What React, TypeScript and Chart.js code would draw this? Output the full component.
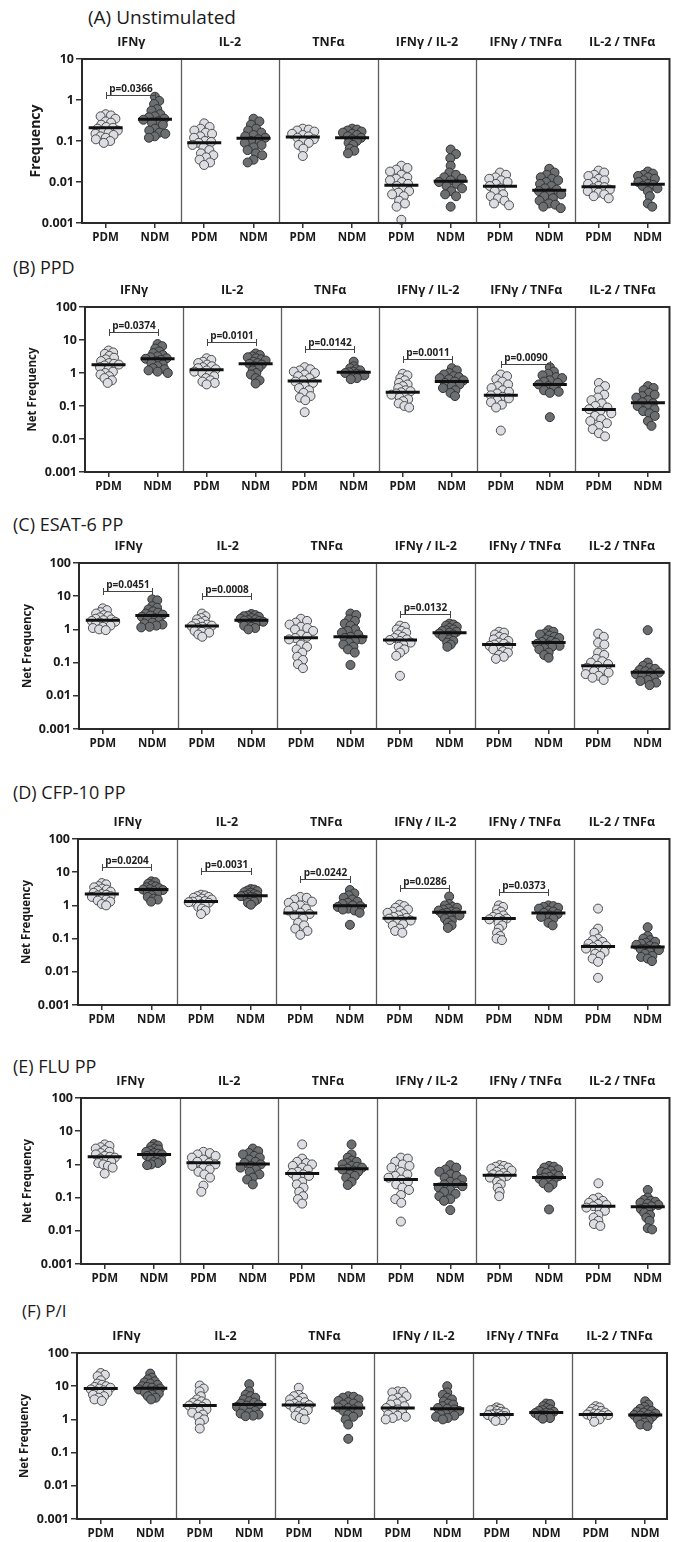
import React, { useEffect, useRef } from 'react';
import { Chart, registerables } from 'chart.js';
Chart.register(...registerables);

// ---------- categories / labels ----------
const GROUPS = ['IFNγ', 'IL-2', 'TNFα', 'IFNγ / IL-2', 'IFNγ / TNFα', 'IL-2 / TNFα'];
const COLUMNS = ['PDM', 'NDM'];
const Y_TICKS_A = [0.001, 0.01, 0.1, 1, 10];
const Y_LABELS_A = ['0.001', '0.01', '0.1', '1', '10'];
const Y_TICKS_NET = [0.001, 0.01, 0.1, 1, 10, 100];
const Y_LABELS_NET = ['0.001', '0.01', '0.1', '1', '10', '100'];

// ---------- (A) Unstimulated ----------
const unstimPDM = [
  [0.45, 0.42, 0.4, 0.35, 0.3, 0.28, 0.25, 0.22, 0.21, 0.2, 0.18, 0.17, 0.16, 0.15, 0.14, 0.13, 0.12, 0.11, 0.1, 0.09],
  [0.27, 0.22, 0.2, 0.18, 0.16, 0.15, 0.13, 0.12, 0.1, 0.095, 0.09, 0.08, 0.07, 0.06, 0.05, 0.045, 0.04, 0.035, 0.03, 0.026],
  [0.2, 0.19, 0.18, 0.17, 0.15, 0.14, 0.13, 0.12, 0.11, 0.1, 0.09, 0.08, 0.065, 0.043],
  [0.025, 0.022, 0.02, 0.018, 0.015, 0.013, 0.012, 0.011, 0.01, 0.009, 0.008, 0.007, 0.006, 0.0055, 0.005, 0.0045, 0.0035, 0.003, 0.0025, 0.0012],
  [0.017, 0.015, 0.013, 0.012, 0.011, 0.01, 0.009, 0.008, 0.007, 0.006, 0.005, 0.0045, 0.004, 0.0035, 0.003, 0.0027],
  [0.019, 0.017, 0.015, 0.014, 0.012, 0.011, 0.01, 0.009, 0.008, 0.0075, 0.007, 0.0065, 0.006, 0.0055, 0.005, 0.0045, 0.004],
];
const unstimNDM = [
  [1.2, 0.95, 0.8, 0.6, 0.55, 0.45, 0.4, 0.38, 0.35, 0.33, 0.3, 0.28, 0.25, 0.2, 0.18, 0.16, 0.15, 0.13, 0.12],
  [0.35, 0.3, 0.25, 0.2, 0.18, 0.16, 0.14, 0.13, 0.12, 0.11, 0.1, 0.09, 0.08, 0.07, 0.06, 0.05, 0.045, 0.035, 0.03],
  [0.2, 0.19, 0.18, 0.17, 0.16, 0.15, 0.14, 0.13, 0.12, 0.11, 0.1, 0.09, 0.08, 0.065, 0.058, 0.05],
  [0.062, 0.048, 0.038, 0.025, 0.017, 0.015, 0.013, 0.012, 0.011, 0.01, 0.009, 0.008, 0.007, 0.006, 0.005, 0.0045, 0.0025],
  [0.021, 0.017, 0.015, 0.013, 0.012, 0.011, 0.01, 0.009, 0.008, 0.007, 0.0065, 0.006, 0.0055, 0.005, 0.0045, 0.004, 0.0035, 0.003, 0.0028, 0.0025, 0.0023],
  [0.018, 0.016, 0.015, 0.014, 0.013, 0.012, 0.011, 0.01, 0.009, 0.0085, 0.008, 0.007, 0.006, 0.0045, 0.003, 0.0025],
];
const unstimPDMMedian = [0.21, 0.091, 0.125, 0.0083, 0.0079, 0.0077];
const unstimNDMMedian = [0.34, 0.116, 0.12, 0.0105, 0.0063, 0.0088];
const unstimPValues = [{ group: 0, level: 1.34, label: 'p=0.0366' }];

// ---------- (B) PPD ----------
const ppdPDM = [
  [4.8, 4.2, 3.8, 3.3, 2.9, 2.6, 2.3, 2.0, 1.9, 1.8, 1.7, 1.5, 1.3, 1.1, 1.0, 0.9, 0.8, 0.7, 0.6, 0.5],
  [2.8, 2.5, 2.2, 2.0, 1.8, 1.6, 1.5, 1.4, 1.3, 1.2, 1.1, 1.0, 0.9, 0.8, 0.7, 0.6, 0.55, 0.5, 0.45],
  [1.5, 1.3, 1.2, 1.1, 1.0, 0.9, 0.8, 0.7, 0.6, 0.55, 0.5, 0.4, 0.35, 0.3, 0.25, 0.2, 0.18, 0.15, 0.065],
  [0.95, 0.85, 0.7, 0.6, 0.5, 0.45, 0.4, 0.35, 0.3, 0.28, 0.26, 0.24, 0.22, 0.2, 0.18, 0.16, 0.14, 0.12, 0.1, 0.09],
  [0.9, 0.8, 0.65, 0.55, 0.45, 0.4, 0.35, 0.3, 0.27, 0.24, 0.21, 0.19, 0.17, 0.15, 0.13, 0.11, 0.09, 0.018],
  [0.5, 0.4, 0.3, 0.22, 0.18, 0.15, 0.12, 0.1, 0.09, 0.08, 0.07, 0.06, 0.05, 0.04, 0.035, 0.03, 0.025, 0.02, 0.015, 0.012],
];
const ppdNDM = [
  [7.5, 6.5, 5.5, 4.5, 4.0, 3.5, 3.2, 3.0, 2.8, 2.7, 2.5, 2.3, 2.0, 1.8, 1.6, 1.4, 1.3, 1.2, 1.1, 1.0],
  [3.9, 3.5, 3.2, 3.0, 2.8, 2.6, 2.4, 2.2, 2.0, 1.9, 1.8, 1.6, 1.4, 1.2, 1.0, 0.9, 0.7, 0.6, 0.48],
  [2.2, 1.6, 1.4, 1.3, 1.2, 1.1, 1.05, 1.0, 0.95, 0.9, 0.85, 0.8, 0.7, 0.65],
  [1.4, 1.2, 1.0, 0.9, 0.8, 0.75, 0.7, 0.65, 0.6, 0.55, 0.5, 0.45, 0.4, 0.35, 0.3, 0.25, 0.2],
  [1.5, 1.1, 0.95, 0.85, 0.75, 0.7, 0.6, 0.55, 0.5, 0.45, 0.4, 0.35, 0.3, 0.27, 0.25, 0.046],
  [0.4, 0.35, 0.3, 0.25, 0.22, 0.2, 0.18, 0.15, 0.13, 0.12, 0.1, 0.09, 0.08, 0.07, 0.06, 0.05, 0.035, 0.025],
];
const ppdPDMMedian = [1.78, 1.26, 0.57, 0.26, 0.21, 0.078];
const ppdNDMMedian = [2.7, 1.9, 1.05, 0.55, 0.45, 0.125];
const ppdPValues = [
  { group: 0, level: 17, label: 'p=0.0374' },
  { group: 1, level: 9, label: 'p=0.0101' },
  { group: 2, level: 5.5, label: 'p=0.0142' },
  { group: 3, level: 2.65, label: 'p=0.0011' },
  { group: 4, level: 1.9, label: 'p=0.0090' },
];

// ---------- (C) ESAT-6 PP ----------
const esatPDM = [
  [4.3, 3.8, 3.3, 3.0, 2.7, 2.5, 2.3, 2.1, 2.0, 1.9, 1.8, 1.7, 1.6, 1.5, 1.4, 1.3, 1.2, 1.1, 1.0, 0.95],
  [3.0, 2.5, 2.2, 2.0, 1.8, 1.6, 1.5, 1.4, 1.3, 1.25, 1.2, 1.1, 1.0, 0.9, 0.85, 0.8, 0.7, 0.6],
  [2.1, 1.8, 1.6, 1.4, 1.2, 1.1, 1.0, 0.9, 0.7, 0.6, 0.55, 0.5, 0.35, 0.3, 0.25, 0.2, 0.15, 0.12, 0.09, 0.068],
  [1.3, 1.2, 1.0, 0.9, 0.8, 0.7, 0.6, 0.55, 0.5, 0.48, 0.45, 0.4, 0.35, 0.3, 0.25, 0.2, 0.16, 0.04],
  [0.85, 0.8, 0.7, 0.6, 0.55, 0.5, 0.45, 0.4, 0.37, 0.35, 0.32, 0.3, 0.27, 0.25, 0.22, 0.2, 0.17, 0.15, 0.13],
  [0.75, 0.6, 0.4, 0.35, 0.2, 0.17, 0.13, 0.11, 0.1, 0.09, 0.08, 0.07, 0.06, 0.055, 0.05, 0.045, 0.04, 0.035, 0.03],
];
const esatNDM = [
  [8.0, 7.5, 5.0, 4.5, 4.0, 3.5, 3.2, 3.0, 2.8, 2.6, 2.4, 2.2, 2.0, 1.8, 1.6, 1.5, 1.4, 1.3, 1.2, 1.15],
  [2.9, 2.7, 2.6, 2.5, 2.4, 2.2, 2.1, 2.0, 1.9, 1.85, 1.8, 1.7, 1.6, 1.5, 1.4, 1.3, 1.2, 1.1, 1.0],
  [3.0, 2.7, 2.0, 1.8, 1.5, 1.3, 1.0, 0.9, 0.8, 0.7, 0.6, 0.55, 0.5, 0.45, 0.4, 0.35, 0.3, 0.25, 0.2, 0.085],
  [1.5, 1.4, 1.3, 1.2, 1.1, 1.0, 0.95, 0.9, 0.85, 0.8, 0.75, 0.7, 0.65, 0.6, 0.5, 0.45, 0.4, 0.35, 0.3],
  [0.95, 0.85, 0.75, 0.7, 0.65, 0.6, 0.55, 0.5, 0.45, 0.42, 0.4, 0.37, 0.35, 0.32, 0.3, 0.27, 0.25, 0.2, 0.17, 0.14],
  [0.95, 0.1, 0.08, 0.07, 0.065, 0.06, 0.055, 0.05, 0.048, 0.045, 0.04, 0.035, 0.03, 0.028, 0.025, 0.021],
];
const esatPDMMedian = [1.9, 1.26, 0.56, 0.48, 0.35, 0.081];
const esatNDMMedian = [2.6, 1.9, 0.6, 0.79, 0.4, 0.051];
const esatPValues = [
  { group: 0, level: 14.5, label: 'p=0.0451' },
  { group: 1, level: 10, label: 'p=0.0008' },
  { group: 3, level: 3.0, label: 'p=0.0132' },
];

// ---------- (D) CFP-10 PP ----------
const cfpPDM = [
  [4.7, 4.3, 3.8, 3.5, 3.2, 3.0, 2.8, 2.6, 2.4, 2.2, 2.1, 2.0, 1.9, 1.8, 1.6, 1.5, 1.4, 1.3, 1.1, 1.0],
  [2.1, 2.0, 1.9, 1.8, 1.7, 1.6, 1.5, 1.4, 1.35, 1.3, 1.25, 1.2, 1.1, 1.0, 0.9, 0.8, 0.7, 0.55],
  [1.8, 1.7, 1.5, 1.3, 1.2, 1.0, 0.9, 0.8, 0.7, 0.6, 0.55, 0.5, 0.4, 0.3, 0.25, 0.2, 0.17, 0.13],
  [1.05, 0.95, 0.85, 0.75, 0.7, 0.65, 0.6, 0.55, 0.5, 0.45, 0.42, 0.4, 0.37, 0.35, 0.3, 0.27, 0.25, 0.2, 0.17, 0.15],
  [1.0, 0.9, 0.75, 0.65, 0.55, 0.5, 0.45, 0.42, 0.4, 0.38, 0.35, 0.3, 0.25, 0.2, 0.15, 0.12, 0.1, 0.09],
  [0.8, 0.2, 0.15, 0.1, 0.09, 0.08, 0.07, 0.065, 0.06, 0.055, 0.05, 0.045, 0.04, 0.035, 0.03, 0.025, 0.02, 0.0066],
];
const cfpNDM = [
  [5.3, 5.0, 4.5, 4.0, 3.7, 3.5, 3.3, 3.1, 3.0, 2.9, 2.7, 2.5, 2.3, 2.0, 1.8, 1.6, 1.5, 1.3],
  [3.1, 3.0, 2.8, 2.7, 2.5, 2.4, 2.2, 2.1, 2.0, 1.95, 1.9, 1.8, 1.7, 1.6, 1.5, 1.4, 1.3, 1.2, 1.05],
  [2.9, 2.3, 2.0, 1.7, 1.5, 1.3, 1.2, 1.1, 1.0, 0.95, 0.9, 0.8, 0.75, 0.7, 0.6, 0.26],
  [1.85, 1.1, 1.0, 0.9, 0.85, 0.8, 0.75, 0.7, 0.65, 0.62, 0.6, 0.55, 0.5, 0.45, 0.4, 0.35, 0.3, 0.25, 0.21],
  [1.0, 0.95, 0.9, 0.85, 0.8, 0.7, 0.65, 0.6, 0.55, 0.5, 0.45, 0.4, 0.3, 0.25],
  [0.22, 0.12, 0.1, 0.09, 0.08, 0.075, 0.07, 0.065, 0.06, 0.055, 0.05, 0.048, 0.045, 0.04, 0.035, 0.03, 0.028, 0.025, 0.021],
];
const cfpPDMMedian = [2.2, 1.3, 0.59, 0.41, 0.4, 0.058];
const cfpNDMMedian = [3.0, 1.95, 0.98, 0.62, 0.59, 0.056];
const cfpPValues = [
  { group: 0, level: 14, label: 'p=0.0204' },
  { group: 1, level: 11, label: 'p=0.0031' },
  { group: 2, level: 6.3, label: 'p=0.0242' },
  { group: 3, level: 3.3, label: 'p=0.0286' },
  { group: 4, level: 2.5, label: 'p=0.0373' },
];

// ---------- (E) FLU PP ----------
const fluPDM = [
  [4.0, 3.6, 3.3, 3.0, 2.7, 2.4, 2.2, 2.0, 1.8, 1.7, 1.6, 1.5, 1.3, 1.2, 1.1, 1.0, 0.9, 0.8, 0.53],
  [2.4, 2.2, 2.0, 1.8, 1.6, 1.4, 1.2, 1.1, 1.0, 0.9, 0.8, 0.7, 0.6, 0.5, 0.4, 0.23, 0.15],
  [4.0, 1.5, 1.2, 1.1, 1.0, 0.9, 0.8, 0.7, 0.6, 0.55, 0.5, 0.45, 0.4, 0.3, 0.25, 0.2, 0.15, 0.11, 0.09, 0.066],
  [1.6, 1.5, 1.2, 1.0, 0.9, 0.8, 0.6, 0.5, 0.45, 0.4, 0.35, 0.3, 0.25, 0.2, 0.17, 0.12, 0.09, 0.07, 0.019],
  [0.95, 0.9, 0.85, 0.8, 0.75, 0.7, 0.65, 0.6, 0.55, 0.5, 0.47, 0.45, 0.4, 0.35, 0.3, 0.25, 0.2, 0.15, 0.11],
  [0.27, 0.1, 0.09, 0.08, 0.07, 0.065, 0.06, 0.055, 0.05, 0.045, 0.04, 0.03, 0.025, 0.02, 0.016, 0.014],
];
const fluNDM = [
  [4.1, 3.7, 3.4, 3.0, 2.8, 2.6, 2.4, 2.2, 2.1, 2.0, 1.9, 1.8, 1.6, 1.5, 1.4, 1.3, 1.2, 1.1, 1.0, 0.95],
  [3.0, 2.5, 2.2, 2.0, 1.8, 1.6, 1.4, 1.2, 1.1, 1.0, 0.9, 0.8, 0.7, 0.6, 0.5, 0.4, 0.35, 0.25],
  [4.0, 2.0, 1.6, 1.3, 1.2, 1.1, 1.0, 0.9, 0.85, 0.8, 0.75, 0.7, 0.65, 0.6, 0.5, 0.45, 0.4, 0.3, 0.24],
  [0.95, 0.8, 0.7, 0.6, 0.5, 0.45, 0.4, 0.35, 0.3, 0.27, 0.25, 0.22, 0.2, 0.17, 0.15, 0.13, 0.11, 0.09, 0.08, 0.042],
  [0.9, 0.85, 0.8, 0.7, 0.65, 0.6, 0.55, 0.5, 0.45, 0.42, 0.4, 0.37, 0.35, 0.3, 0.27, 0.25, 0.2, 0.044],
  [0.17, 0.1, 0.085, 0.08, 0.075, 0.07, 0.065, 0.06, 0.055, 0.05, 0.045, 0.04, 0.035, 0.03, 0.025, 0.02, 0.012, 0.011],
];
const fluPDMMedian = [1.7, 1.12, 0.53, 0.35, 0.47, 0.055];
const fluNDMMedian = [2.0, 1.02, 0.74, 0.25, 0.4, 0.053];
const fluPValues: { group: number; level: number; label: string }[] = [];

// ---------- (F) P/I ----------
const piPDM = [
  [25, 22, 20, 15, 12, 11, 10, 9.5, 9, 8.5, 8, 7.5, 7, 6.5, 6, 5.5, 5, 4.5, 4, 3.6],
  [10.5, 8.5, 7.0, 5.0, 4.0, 3.5, 3.2, 3.0, 2.8, 2.6, 2.4, 2.2, 2.0, 1.8, 1.6, 1.4, 1.2, 1.0, 0.8, 0.53],
  [9.0, 5.5, 5.0, 4.5, 4.0, 3.6, 3.3, 3.0, 2.8, 2.7, 2.5, 2.3, 2.1, 1.9, 1.7, 1.5, 1.3, 1.1, 1.0],
  [7.0, 6.8, 6.5, 5.0, 4.5, 4.0, 3.5, 3.0, 2.8, 2.5, 2.2, 2.0, 1.8, 1.6, 1.4, 1.3, 1.2, 1.1, 1.0],
  [2.3, 2.1, 2.0, 1.9, 1.8, 1.7, 1.6, 1.5, 1.45, 1.4, 1.35, 1.3, 1.25, 1.2, 1.1, 1.0, 0.95, 0.9],
  [2.5, 2.3, 2.1, 1.9, 1.8, 1.7, 1.6, 1.5, 1.45, 1.4, 1.35, 1.3, 1.2, 1.1, 1.0, 0.85],
];
const piNDM = [
  [24, 18, 16, 14, 13, 12, 11, 10, 9.5, 9, 8.5, 8, 7.5, 7, 6.5, 6, 5.5, 5, 4.5, 4.0],
  [11.5, 7.0, 5.5, 5.0, 4.5, 4.0, 3.5, 3.2, 3.0, 2.8, 2.6, 2.4, 2.2, 2.0, 1.8, 1.6, 1.5, 1.4, 1.3, 1.25],
  [5.0, 4.8, 4.5, 4.0, 3.6, 3.3, 3.0, 2.8, 2.5, 2.3, 2.2, 2.0, 1.8, 1.6, 1.4, 1.2, 1.0, 0.7, 0.26],
  [10, 6.5, 5.5, 4.5, 4.0, 3.5, 3.0, 2.8, 2.5, 2.2, 2.1, 2.0, 1.8, 1.6, 1.5, 1.4, 1.3, 1.2, 1.1, 1.0],
  [3.0, 2.9, 2.5, 2.2, 2.0, 1.9, 1.8, 1.7, 1.6, 1.55, 1.5, 1.4, 1.3, 1.2, 1.1, 1.05],
  [3.5, 2.8, 2.4, 2.1, 1.9, 1.8, 1.7, 1.6, 1.5, 1.4, 1.35, 1.3, 1.2, 1.1, 1.0, 0.9, 0.8, 0.7, 0.63],
];
const piPDMMedian = [8.5, 2.6, 2.7, 2.2, 1.4, 1.4];
const piNDMMedian = [8.7, 2.8, 2.2, 2.1, 1.6, 1.35];
const piPValues: { group: number; level: number; label: string }[] = [];

// ---------- layout / style (kept apart from data) ----------
const FONT = '"Open Sans", "DejaVu Sans", sans-serif';
const XMAX = 5.96;
const COL_POS = [0.24, 0.74];
const PAD_TOP = 24;
const PAD_BOTTOM = 24;
const POINT_R = 4.5;
const MEDIAN_HALF = 17;

type PanelSpec = {
  title: string; titleX: number; titleTop: number; titleSize: number;
  L: number; T: number; R: number; B: number;
  yTicks: number[]; yLabels: string[];
  yTitle: string; yTitleSize: number; yTitleX: number;
  pdm: number[][]; ndm: number[][]; pdmMed: number[]; ndmMed: number[];
  pvals: { group: number; level: number; label: string }[];
};

const PANELS: PanelSpec[] = [
  { title: '(A) Unstimulated', titleX: 88, titleTop: 8, titleSize: 19, L: 82, T: 59, R: 672, B: 223, yTicks: Y_TICKS_A, yLabels: Y_LABELS_A, yTitle: 'Frequency', yTitleSize: 14, yTitleX: 36, pdm: unstimPDM, ndm: unstimNDM, pdmMed: unstimPDMMedian, ndmMed: unstimNDMMedian, pvals: unstimPValues },
  { title: '(B) PPD', titleX: 13, titleTop: 258, titleSize: 18, L: 85, T: 307, R: 673, B: 472, yTicks: Y_TICKS_NET, yLabels: Y_LABELS_NET, yTitle: 'Net Frequency', yTitleSize: 11.5, yTitleX: 33, pdm: ppdPDM, ndm: ppdNDM, pdmMed: ppdPDMMedian, ndmMed: ppdNDMMedian, pvals: ppdPValues },
  { title: '(C) ESAT-6 PP', titleX: 13, titleTop: 515, titleSize: 18, L: 79, T: 563, R: 670, B: 729, yTicks: Y_TICKS_NET, yLabels: Y_LABELS_NET, yTitle: 'Net Frequency', yTitleSize: 11.5, yTitleX: 28, pdm: esatPDM, ndm: esatNDM, pdmMed: esatPDMMedian, ndmMed: esatNDMMedian, pvals: esatPValues },
  { title: '(D) CFP-10 PP', titleX: 13, titleTop: 783, titleSize: 18, L: 78, T: 839, R: 670, B: 1005, yTicks: Y_TICKS_NET, yLabels: Y_LABELS_NET, yTitle: 'Net Frequency', yTitleSize: 11.5, yTitleX: 27, pdm: cfpPDM, ndm: cfpNDM, pdmMed: cfpPDMMedian, ndmMed: cfpNDMMedian, pvals: cfpPValues },
  { title: '(E) FLU PP', titleX: 13, titleTop: 1057, titleSize: 18, L: 81, T: 1098, R: 672, B: 1264, yTicks: Y_TICKS_NET, yLabels: Y_LABELS_NET, yTitle: 'Net Frequency', yTitleSize: 11.5, yTitleX: 28, pdm: fluPDM, ndm: fluNDM, pdmMed: fluPDMMedian, ndmMed: fluNDMMedian, pvals: fluPValues },
  { title: '(F) P/I', titleX: 22, titleTop: 1302, titleSize: 17, L: 77, T: 1353, R: 667, B: 1519, yTicks: Y_TICKS_NET, yLabels: Y_LABELS_NET, yTitle: 'Net Frequency', yTitleSize: 11.5, yTitleX: 25, pdm: piPDM, ndm: piNDM, pdmMed: piPDMMedian, ndmMed: piNDMMedian, pvals: piPValues },
];

// Beeswarm offsets (pixels) computed from the values, like a scatter dot plot
function swarm(values: number[], pxPerDecade: number): number[] {
  const ys = values.map((v) => -Math.log10(v) * pxPerDecade);
  const order = ys.map((_, i) => i).sort((a, b) => ys[a] - ys[b]);
  const MAXOFF = 12.5;
  let best: number[] = values.map(() => 0);
  for (let d = 8.5; d >= 3; d -= 0.5) {
    const xs = values.map(() => 0);
    const placed: number[] = [];
    let ok = true;
    order.forEach((i, k) => {
      const iv: [number, number][] = [];
      for (const j of placed) {
        const dy = Math.abs(ys[j] - ys[i]);
        if (dy < d) {
          const dx = Math.sqrt(d * d - dy * dy);
          iv.push([xs[j] - dx, xs[j] + dx]);
        }
      }
      const sgn = k % 2 ? 1 : -1;
      const cands = [0, ...iv.flat()].sort((a, b) => Math.abs(a) - Math.abs(b) || sgn * (b - a));
      const free = cands.find((c) => iv.every(([lo, hi]) => c <= lo + 1e-6 || c >= hi - 1e-6));
      xs[i] = free ?? 0;
      if (Math.abs(xs[i]) > MAXOFF) ok = false;
      placed.push(i);
    });
    best = xs;
    if (ok) break;
  }
  return best.map((x) => Math.max(-MAXOFF - 2, Math.min(MAXOFF + 2, x)));
}

function makeDecor(p: PanelSpec) {
  return {
    id: 'panelDecor',
    beforeDatasetsDraw(chart: any) {
      const { ctx, chartArea: a, scales } = chart;
      const x = scales.x;
      ctx.save();
      ctx.strokeStyle = '#5c5c5c';
      ctx.lineWidth = 1.3;
      for (let i = 1; i < 6; i++) {
        const px = Math.round(x.getPixelForValue(i)) + 0.5;
        ctx.beginPath();
        ctx.moveTo(px, a.top);
        ctx.lineTo(px, a.bottom);
        ctx.stroke();
      }
      ctx.restore();
    },
    afterDatasetsDraw(chart: any) {
      const { ctx, chartArea: a, scales } = chart;
      const x = scales.x;
      const y = scales.y;
      ctx.save();
      // medians
      ctx.strokeStyle = '#111';
      ctx.lineWidth = 3;
      [p.pdmMed, p.ndmMed].forEach((meds, c) => {
        meds.forEach((m, g) => {
          const cx = x.getPixelForValue(g + COL_POS[c]);
          const cy = y.getPixelForValue(m);
          ctx.beginPath();
          ctx.moveTo(cx - MEDIAN_HALF, cy);
          ctx.lineTo(cx + MEDIAN_HALF, cy);
          ctx.stroke();
        });
      });
      // p-value brackets
      ctx.strokeStyle = '#444';
      ctx.lineWidth = 1;
      ctx.fillStyle = '#222';
      ctx.font = `bold 10px ${FONT}`;
      ctx.textAlign = 'center';
      ctx.textBaseline = 'alphabetic';
      p.pvals.forEach((b) => {
        const x1 = Math.round(x.getPixelForValue(b.group + COL_POS[0])) + 0.5;
        const x2 = Math.round(x.getPixelForValue(b.group + COL_POS[1])) + 0.5;
        const by = Math.round(y.getPixelForValue(b.level)) + 0.5;
        ctx.beginPath();
        ctx.moveTo(x1, by); ctx.lineTo(x2, by);
        ctx.moveTo(x1, by - 3.5); ctx.lineTo(x1, by + 3.5);
        ctx.moveTo(x2, by - 3.5); ctx.lineTo(x2, by + 3.5);
        ctx.stroke();
        ctx.fillText(b.label, (x1 + x2) / 2, by - 4);
      });
      // frame
      ctx.strokeStyle = '#2a2a2a';
      ctx.lineWidth = 2;
      ctx.strokeRect(a.left, a.top, a.right - a.left, a.bottom - a.top);
      ctx.restore();
    },
  };
}

function Panel({ p }: { p: PanelSpec }) {
  const ref = useRef<HTMLCanvasElement>(null);
  const H = p.B - p.T + PAD_TOP + PAD_BOTTOM;
  useEffect(() => {
    if (!ref.current) return;
    const unitPx = (p.R - p.L) / XMAX;
    const yMin = p.yTicks[0];
    const yMax = p.yTicks[p.yTicks.length - 1];
    const pxPerDecade = (p.B - p.T) / Math.log10(yMax / yMin);
    const build = (groups: number[][], col: number) =>
      groups.flatMap((vals, g) => {
        const offs = swarm(vals, pxPerDecade);
        return vals.map((v, k) => ({ x: g + COL_POS[col] + offs[k] / unitPx, y: v }));
      });
    const bottomTicks = GROUPS.flatMap((_, g) => COL_POS.map((c) => g + c));
    const topTicks = GROUPS.map((_, g) => (g + Math.min(g + 1, XMAX)) / 2);
    const lh = p.yTitleSize * 1.2;
    const chart = new Chart(ref.current, {
      type: 'scatter',
      data: {
        datasets: [
          { label: 'PDM', data: build(p.pdm, 0), backgroundColor: '#dddee4', borderColor: '#4e4e4e', borderWidth: 1, pointRadius: POINT_R, pointHoverRadius: POINT_R, clip: false } as any,
          { label: 'NDM', data: build(p.ndm, 1), backgroundColor: '#6c6f72', borderColor: '#333333', borderWidth: 1, pointRadius: POINT_R, pointHoverRadius: POINT_R, clip: false } as any,
        ],
      },
      options: {
        animation: false,
        responsive: false,
        devicePixelRatio: 1,
        events: [],
        layout: { padding: { left: 0, right: 675 - p.R, top: 0, bottom: 0 } },
        plugins: { legend: { display: false }, tooltip: { enabled: false } },
        scales: {
          x: {
            type: 'linear', position: 'bottom', min: 0, max: XMAX,
            afterBuildTicks: (s: any) => { s.ticks = bottomTicks.map((v) => ({ value: v })); },
            afterFit: (s: any) => { s.height = PAD_BOTTOM; },
            ticks: { autoSkip: false, maxRotation: 0, padding: 3, color: '#1a1a1a', font: { family: FONT, size: 11.5, weight: 'bold' }, callback: (_v: any, i: number) => COLUMNS[i % 2] },
            grid: { drawOnChartArea: false, drawTicks: true, tickLength: 5, color: '#333', lineWidth: 1.5 },
            border: { display: false },
          },
          xTop: {
            type: 'linear', position: 'top', min: 0, max: XMAX,
            afterBuildTicks: (s: any) => { s.ticks = topTicks.map((v) => ({ value: v })); },
            afterFit: (s: any) => { s.height = PAD_TOP; },
            ticks: { autoSkip: false, maxRotation: 0, padding: 1, color: '#1a1a1a', font: { family: FONT, size: 12.5, weight: 'bold' }, callback: (_v: any, i: number) => GROUPS[i] },
            grid: { display: false },
            border: { display: false },
          },
          y: {
            type: 'logarithmic', position: 'left', min: yMin, max: yMax,
            afterBuildTicks: (s: any) => { s.ticks = p.yTicks.map((v) => ({ value: v })); },
            afterFit: (s: any) => { s.width = p.L; },
            ticks: { autoSkip: false, padding: 2, color: '#1a1a1a', font: { family: FONT, size: 12.5, weight: 'bold' }, callback: (_v: any, i: number) => p.yLabels[i] },
            grid: { drawOnChartArea: false, drawTicks: true, tickLength: 6, color: '#333', lineWidth: 1.5 },
            border: { display: false },
            title: { display: true, text: p.yTitle, color: '#1a1a1a', font: { family: FONT, size: p.yTitleSize, weight: 'bold' }, padding: { top: p.yTitleX - lh / 2, bottom: 0 } },
          },
        },
      } as any,
      plugins: [makeDecor(p)],
    });
    return () => chart.destroy();
  }, [p]);
  return (
    <canvas
      ref={ref}
      width={675}
      height={H}
      style={{ position: 'absolute', left: 0, top: p.T - PAD_TOP, width: 675, height: H, display: 'block' }}
    />
  );
}

export default function App() {
  return (
    <div style={{ position: 'absolute', left: 0, top: 0, width: 675, height: 1542, background: '#fff', overflow: 'hidden' }}>
      {PANELS.map((p) => (
        <div
          key={p.title}
          style={{ position: 'absolute', left: p.titleX, top: p.titleTop, fontFamily: FONT, fontSize: p.titleSize, lineHeight: 1, color: '#1a1a1a', whiteSpace: 'nowrap' }}
        >
          {p.title}
        </div>
      ))}
      {PANELS.map((p) => (
        <Panel key={p.title + '-chart'} p={p} />
      ))}
    </div>
  );
}
